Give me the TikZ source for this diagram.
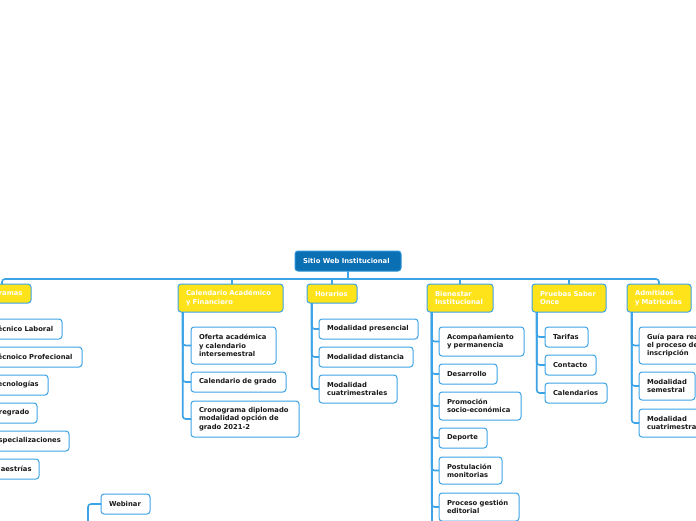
\documentclass[tikz,border=0pt]{standalone}
\usepackage{fontspec}
\setmainfont{DejaVu Sans}
\definecolor{lineblue}{HTML}{3BA3E6}
\definecolor{rootblue}{HTML}{0B6FB4}
\definecolor{boxyellow}{HTML}{FFE31A}
\definecolor{txtdark}{HTML}{1A1A1A}
\newcommand{\mmbox}[7]{%
  \pgfmathsetmacro\mmbw{#5-(#3)}%
  \pgfmathsetmacro\mmbh{#6-(#4)}%
  \pgfmathsetmacro\mmtw{\mmbw-16}%
  \node[#2, anchor=north west, minimum width=\mmbw pt, minimum height=\mmbh pt, text width=\mmtw pt] (#1) at (#3,#4) {#7};}
\begin{document}
\begin{tikzpicture}[x=1pt,y=-1pt,
  every node/.style={font=\bfseries\fontsize{6.8}{8.3}\selectfont, align=left, inner xsep=8pt, inner ysep=1pt, outer sep=0pt, rounded corners=3pt},
  rootbox/.style={fill=rootblue, draw=lineblue!70!rootblue, line width=1pt, text=white},
  mainbox/.style={fill=boxyellow, draw=lineblue, line width=1pt, text=white},
  leafbox/.style={fill=white, draw=lineblue, line width=1pt, text=txtdark},
  conn/.style={draw=lineblue, line width=1.6pt, rounded corners=3pt}]
\useasboundingbox (0,0) rectangle (696,520);
\clip (0,0) rectangle (696,520);
\fill[white] (0,0) rectangle (696,520);

% root
\mmbox{root}{rootbox}{295}{251}{401}{271}{Sitio Web Institucional}

% main branches
\mmbox{prog}{mainbox}{-27}{284}{31}{303}{Programas}
\mmbox{cal}{mainbox}{178}{284}{283}{312}{Calendario Académico\\y Financiero}
\mmbox{hor}{mainbox}{307}{284}{357}{303}{Horarios}
\mmbox{bien}{mainbox}{427}{284}{493}{312}{Bienestar\\Institucional}
\mmbox{prue}{mainbox}{532}{284}{606}{312}{Pruebas Saber\\Once}
\mmbox{adm}{mainbox}{627}{284}{691}{312}{Admitidos\\y Matriculas}

% Programas children
\mmbox{p1}{leafbox}{-14}{319}{62}{339}{Técnico Laboral}
\mmbox{p2}{leafbox}{-14}{347}{82}{367}{Técnoico Profecional}
\mmbox{p3}{leafbox}{-14}{375}{48}{395}{Tecnologías}
\mmbox{p4}{leafbox}{-14}{403}{37}{423}{Pregrado}
\mmbox{p5}{leafbox}{-14}{431}{69}{451}{Especializaciones}
\mmbox{p6}{leafbox}{-14}{459}{39}{479}{Maestrías}

% Calendario children
\mmbox{c1}{leafbox}{191}{327}{276}{364}{Oferta académica\\y calendario\\intersemestral}
\mmbox{c2}{leafbox}{191}{372}{286}{392}{Calendario de grado}
\mmbox{c3}{leafbox}{191}{401}{299}{437}{Cronograma diplomado\\modalidad opción de\\grado 2021-2}

% Horarios children
\mmbox{h1}{leafbox}{319}{319}{418}{339}{Modalidad presencial}
\mmbox{h2}{leafbox}{319}{347}{413}{367}{Modalidad distancia}
\mmbox{h3}{leafbox}{319}{375}{397}{403}{Modalidad\\cuatrimestrales}

% Bienestar children
\mmbox{b1}{leafbox}{439}{327}{524}{356}{Acompañamiento\\y permanencia}
\mmbox{b2}{leafbox}{439}{364}{497}{384}{Desarrollo}
\mmbox{b3}{leafbox}{439}{392}{521}{420}{Promoción\\socio-económica}
\mmbox{b4}{leafbox}{439}{428}{487}{448}{Deporte}
\mmbox{b5}{leafbox}{439}{457}{502}{484}{Postulación\\monitorias}
\mmbox{b6}{leafbox}{439}{493}{519}{521}{Proceso gestión\\editorial}

% Pruebas children
\mmbox{s1}{leafbox}{545}{327}{588}{347}{Tarifas}
\mmbox{s2}{leafbox}{545}{355}{596}{375}{Contacto}
\mmbox{s3}{leafbox}{545}{383}{607}{403}{Calendarios}

% Admitidos children
\mmbox{a1}{leafbox}{639}{327}{728}{364}{Guía para realizar\\el proceso de\\inscripción}
\mmbox{a2}{leafbox}{639}{372}{695}{400}{Modalidad\\semestral}
\mmbox{a3}{leafbox}{639}{409}{716}{437}{Modalidad\\cuatrimestrales}

% Webinar
\mmbox{web}{leafbox}{101}{494}{150}{514}{Webinar}

% connectors: main level
\coordinate (hl) at (0,279);
\coordinate (bot) at (0,530);
\draw[conn] (root.south) -- (root.south |- hl);
\draw[conn] (prog.north) |- (root.south |- hl) -| (adm.north);
\draw[conn] ([xshift=1.5pt]cal.north) -- ([xshift=1.5pt]cal.north |- hl);
\draw[conn] (hor.north) -- (hor.north |- hl);
\draw[conn] (bien.north) -- (bien.north |- hl);
\draw[conn] (prue.north) -- (prue.north |- hl);

% connectors: children
\coordinate (progL) at ([xshift=4.7pt]prog.south west);
\coordinate (calL) at ([xshift=4.7pt]cal.south west);
\coordinate (horL) at ([xshift=4.7pt]hor.south west);
\coordinate (bienL) at ([xshift=4.7pt]bien.south west);
\coordinate (prueL) at ([xshift=4.7pt]prue.south west);
\coordinate (admL) at ([xshift=4.7pt]adm.south west);
\foreach \c in {p1,p2,p3,p4,p5,p6} \draw[conn] (progL) |- (\c.west);
\foreach \c in {c1,c2,c3} \draw[conn] (calL) |- (\c.west);
\foreach \c in {h1,h2,h3} \draw[conn] (horL) |- (\c.west);
\foreach \c in {b1,b2,b3,b4,b5,b6} \draw[conn] (bienL) |- (\c.west);
\draw[conn] (bienL) -- (bienL |- bot);
\foreach \c in {s1,s2,s3} \draw[conn] (prueL) |- (\c.west);
\foreach \c in {a1,a2,a3} \draw[conn] (admL) |- (\c.west);
\coordinate (webbot) at (88,530);
\draw[conn] (webbot) |- (web.west);
\end{tikzpicture}
\end{document}
